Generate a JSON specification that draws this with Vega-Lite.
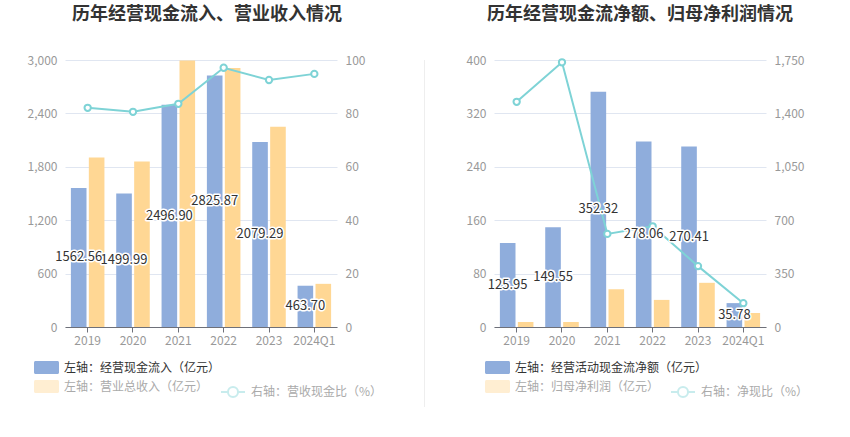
{
  "$schema": "https://vega.github.io/schema/vega-lite/v6.json",
  "background": "white",
  "padding": {"left": 27, "top": 6, "right": 0, "bottom": 0},
  "datasets": {
    "cash": [
      {"year": "2019", "s": "左轴：经营现金流入（亿元）", "v": 1562.56},
      {"year": "2020", "s": "左轴：经营现金流入（亿元）", "v": 1499.99},
      {"year": "2021", "s": "左轴：经营现金流入（亿元）", "v": 2496.90},
      {"year": "2022", "s": "左轴：经营现金流入（亿元）", "v": 2825.87},
      {"year": "2023", "s": "左轴：经营现金流入（亿元）", "v": 2079.29},
      {"year": "2024Q1", "s": "左轴：经营现金流入（亿元）", "v": 463.70},
      {"year": "2019", "s": "左轴：营业总收入（亿元）", "v": 1905},
      {"year": "2020", "s": "左轴：营业总收入（亿元）", "v": 1860},
      {"year": "2021", "s": "左轴：营业总收入（亿元）", "v": 2995},
      {"year": "2022", "s": "左轴：营业总收入（亿元）", "v": 2910},
      {"year": "2023", "s": "左轴：营业总收入（亿元）", "v": 2250},
      {"year": "2024Q1", "s": "左轴：营业总收入（亿元）", "v": 485}
    ],
    "cashRatio": [
      {"year": "2019", "r": 82.1},
      {"year": "2020", "r": 80.6},
      {"year": "2021", "r": 83.6},
      {"year": "2022", "r": 97.1},
      {"year": "2023", "r": 92.5},
      {"year": "2024Q1", "r": 94.8}
    ],
    "net": [
      {"year": "2019", "s": "左轴：经营活动现金流净额（亿元）", "v": 125.95},
      {"year": "2020", "s": "左轴：经营活动现金流净额（亿元）", "v": 149.55},
      {"year": "2021", "s": "左轴：经营活动现金流净额（亿元）", "v": 352.32},
      {"year": "2022", "s": "左轴：经营活动现金流净额（亿元）", "v": 278.06},
      {"year": "2023", "s": "左轴：经营活动现金流净额（亿元）", "v": 270.41},
      {"year": "2024Q1", "s": "左轴：经营活动现金流净额（亿元）", "v": 35.78},
      {"year": "2019", "s": "左轴：归母净利润（亿元）", "v": 7.5},
      {"year": "2020", "s": "左轴：归母净利润（亿元）", "v": 7.5},
      {"year": "2021", "s": "左轴：归母净利润（亿元）", "v": 56.7},
      {"year": "2022", "s": "左轴：归母净利润（亿元）", "v": 40.6},
      {"year": "2023", "s": "左轴：归母净利润（亿元）", "v": 66.2},
      {"year": "2024Q1", "s": "左轴：归母净利润（亿元）", "v": 21}
    ],
    "netRatio": [
      {"year": "2019", "r": 1476},
      {"year": "2020", "r": 1735},
      {"year": "2021", "r": 610},
      {"year": "2022", "r": 660},
      {"year": "2023", "r": 399},
      {"year": "2024Q1", "r": 156}
    ]
  },
  "spacing": 41,
  "resolve": {
    "scale": {"color": "independent", "stroke": "independent", "xOffset": "independent"},
    "legend": {"color": "independent", "stroke": "independent"}
  },
  "hconcat": [
    {
      "width": 272,
      "height": 267,
      "title": {"text": "历年经营现金流入、营业收入情况", "frame": "group", "anchor": "middle", "offset": 30, "dx": 6},
      "layer": [
        {
          "data": {"name": "cash"},
          "mark": {"type": "bar"},
          "encoding": {
            "x": {"field": "year", "type": "nominal", "title": null, "scale": {"paddingInner": 0.26, "paddingOuter": 0.13}},
            "xOffset": {"field": "s", "type": "nominal", "scale": {"domain": ["左轴：经营现金流入（亿元）", "左轴：营业总收入（亿元）"], "paddingInner": 0.13}},
            "y": {"field": "v", "type": "quantitative", "title": null, "scale": {"domain": [0, 3000]}, "axis": {"values": [0, 600, 1200, 1800, 2400, 3000], "labelExpr": "format(datum.value, ',')"}},
            "color": {
              "field": "s", "type": "nominal",
              "scale": {"domain": ["左轴：经营现金流入（亿元）", "左轴：营业总收入（亿元）"], "range": ["#8FADDC", "#FFD794"]},
              "legend": {
                "orient": "none", "legendX": -31, "legendY": 295, "title": null, "direction": "vertical", "padding": 0,
                "symbolType": "M-0.88,-0.52H0.88A0.12,0.12,0,0,1,1,-0.4V0.4A0.12,0.12,0,0,1,0.88,0.52H-0.88A0.12,0.12,0,0,1,-1,0.4V-0.4A0.12,0.12,0,0,1,-0.88,-0.52Z",
                "symbolSize": 625, "symbolStrokeWidth": 0, "rowPadding": 0, "labelOffset": 5,
                "labelColor": {"expr": "datum.value == '左轴：经营现金流入（亿元）' ? '#333333' : '#aaaaaa'"},
                "symbolOpacity": {"expr": "datum.value == '左轴：经营现金流入（亿元）' ? 1 : 0.42"}
              }
            }
          }
        },
        {
          "data": {"name": "cashRatio"},
          "encoding": {
            "x": {"field": "year", "type": "nominal"},
            "y": {"field": "r", "type": "quantitative", "title": null, "scale": {"domain": [0, 100]}, "axis": {"orient": "right", "grid": false, "values": [0, 20, 40, 60, 80, 100]}}
          },
          "layer": [
            {
              "mark": {"type": "line", "strokeWidth": 2},
              "encoding": {
                "stroke": {
                  "datum": "右轴：营收现金比（%）", "type": "nominal",
                  "scale": {"range": ["#7ED3D6"]},
                  "legend": {
                    "orient": "none", "legendX": 155, "legendY": 319, "title": null, "padding": 0,
                    "symbolType": "M-1,0H-0.42M0.42,0H1M0.42,0A0.42,0.42,0,1,1,-0.42,0A0.42,0.42,0,1,1,0.42,0Z",
                    "symbolSize": 576, "symbolStrokeWidth": 2, "symbolOpacity": 0.42, "labelOffset": 5, "labelColor": "#aaaaaa"
                  }
                }
              }
            },
            {"mark": {"type": "point", "shape": "circle", "size": 40, "filled": true, "fill": "white", "stroke": "#7ED3D6", "strokeWidth": 2, "opacity": 1}}
          ]
        },
        {
          "data": {"name": "cash"},
          "transform": [{"filter": {"field": "s", "equal": "左轴：经营现金流入（亿元）"}}, {"calculate": "datum.v / 2", "as": "mid"}],
          "mark": {"type": "text", "fontSize": 13, "stroke": "white", "strokeWidth": 3, "strokeJoin": "round", "fill": "white"},
          "encoding": {
            "x": {"field": "year", "type": "nominal"},
            "xOffset": {"field": "s", "type": "nominal"},
            "y": {"field": "mid", "type": "quantitative", "scale": {"domain": [0, 3000]}, "axis": null},
            "text": {"field": "v", "type": "quantitative", "format": ".2f"}
          }
        },
        {
          "data": {"name": "cash"},
          "transform": [{"filter": {"field": "s", "equal": "左轴：经营现金流入（亿元）"}}, {"calculate": "datum.v / 2", "as": "mid"}],
          "mark": {"type": "text", "fontSize": 13, "fill": "#333333"},
          "encoding": {
            "x": {"field": "year", "type": "nominal"},
            "xOffset": {"field": "s", "type": "nominal"},
            "y": {"field": "mid", "type": "quantitative", "scale": {"domain": [0, 3000]}, "axis": null},
            "text": {"field": "v", "type": "quantitative", "format": ".2f"}
          }
        }
      ],
      "resolve": {"scale": {"y": "independent"}}
    },
    {
      "width": 1,
      "height": 347,
      "data": {"values": [{}]},
      "mark": {"type": "rect", "color": "#EEEEEE"},
      "encoding": {}
    },
    {
      "width": 272,
      "height": 267,
      "title": {"text": "历年经营现金流净额、归母净利润情况", "frame": "group", "anchor": "middle", "offset": 30, "dx": 10},
      "layer": [
        {
          "data": {"name": "net"},
          "mark": {"type": "bar"},
          "encoding": {
            "x": {"field": "year", "type": "nominal", "title": null, "scale": {"paddingInner": 0.26, "paddingOuter": 0.13}},
            "xOffset": {"field": "s", "type": "nominal", "scale": {"domain": ["左轴：经营活动现金流净额（亿元）", "左轴：归母净利润（亿元）"], "paddingInner": 0.13}},
            "y": {"field": "v", "type": "quantitative", "title": null, "scale": {"domain": [0, 400]}, "axis": {"values": [0, 80, 160, 240, 320, 400]}},
            "color": {
              "field": "s", "type": "nominal",
              "scale": {"domain": ["左轴：经营活动现金流净额（亿元）", "左轴：归母净利润（亿元）"], "range": ["#8FADDC", "#FFD794"]},
              "legend": {
                "orient": "none", "legendX": -9, "legendY": 295, "title": null, "direction": "vertical", "padding": 0,
                "symbolType": "M-0.88,-0.52H0.88A0.12,0.12,0,0,1,1,-0.4V0.4A0.12,0.12,0,0,1,0.88,0.52H-0.88A0.12,0.12,0,0,1,-1,0.4V-0.4A0.12,0.12,0,0,1,-0.88,-0.52Z",
                "symbolSize": 625, "symbolStrokeWidth": 0, "rowPadding": 0, "labelOffset": 5,
                "labelColor": {"expr": "datum.value == '左轴：经营活动现金流净额（亿元）' ? '#333333' : '#aaaaaa'"},
                "symbolOpacity": {"expr": "datum.value == '左轴：经营活动现金流净额（亿元）' ? 1 : 0.42"}
              }
            }
          }
        },
        {
          "data": {"name": "netRatio"},
          "encoding": {
            "x": {"field": "year", "type": "nominal"},
            "y": {"field": "r", "type": "quantitative", "title": null, "scale": {"domain": [0, 1750]}, "axis": {"orient": "right", "grid": false, "values": [0, 350, 700, 1050, 1400, 1750], "labelExpr": "format(datum.value, ',')"}}
          },
          "layer": [
            {
              "mark": {"type": "line", "strokeWidth": 2},
              "encoding": {
                "stroke": {
                  "datum": "右轴：净现比（%）", "type": "nominal",
                  "scale": {"range": ["#7ED3D6"]},
                  "legend": {
                    "orient": "none", "legendX": 176, "legendY": 319, "title": null, "padding": 0,
                    "symbolType": "M-1,0H-0.42M0.42,0H1M0.42,0A0.42,0.42,0,1,1,-0.42,0A0.42,0.42,0,1,1,0.42,0Z",
                    "symbolSize": 576, "symbolStrokeWidth": 2, "symbolOpacity": 0.42, "labelOffset": 5, "labelColor": "#aaaaaa"
                  }
                }
              }
            },
            {"mark": {"type": "point", "shape": "circle", "size": 40, "filled": true, "fill": "white", "stroke": "#7ED3D6", "strokeWidth": 2, "opacity": 1}}
          ]
        },
        {
          "data": {"name": "net"},
          "transform": [{"filter": {"field": "s", "equal": "左轴：经营活动现金流净额（亿元）"}}, {"calculate": "datum.v / 2", "as": "mid"}],
          "mark": {"type": "text", "fontSize": 13, "stroke": "white", "strokeWidth": 3, "strokeJoin": "round", "fill": "white"},
          "encoding": {
            "x": {"field": "year", "type": "nominal"},
            "xOffset": {"field": "s", "type": "nominal"},
            "y": {"field": "mid", "type": "quantitative", "scale": {"domain": [0, 400]}, "axis": null},
            "text": {"field": "v", "type": "quantitative", "format": ".2f"}
          }
        },
        {
          "data": {"name": "net"},
          "transform": [{"filter": {"field": "s", "equal": "左轴：经营活动现金流净额（亿元）"}}, {"calculate": "datum.v / 2", "as": "mid"}],
          "mark": {"type": "text", "fontSize": 13, "fill": "#333333"},
          "encoding": {
            "x": {"field": "year", "type": "nominal"},
            "xOffset": {"field": "s", "type": "nominal"},
            "y": {"field": "mid", "type": "quantitative", "scale": {"domain": [0, 400]}, "axis": null},
            "text": {"field": "v", "type": "quantitative", "format": ".2f"}
          }
        }
      ],
      "resolve": {"scale": {"y": "independent"}}
    }
  ],
  "config": {
    "font": "Noto Sans CJK SC",
    "view": {"stroke": null},
    "title": {"fontSize": 18, "fontWeight": "bold", "color": "#333333", "font": "Noto Sans CJK SC"},
    "axis": {"labelFont": "Noto Sans CJK SC", "labelFontSize": 12, "labelColor": "#999999"},
    "axisX": {"domainColor": "#6E7079", "tickColor": "#6E7079", "tickSize": 5, "labelPadding": 3, "grid": false, "labelAngle": 0},
    "axisY": {"domain": false, "ticks": false, "gridColor": "#E0E6F1", "labelPadding": 8},
    "legend": {"labelFont": "Noto Sans CJK SC", "labelFontSize": 12, "labelLimit": 400},
    "text": {"font": "Noto Sans CJK SC"}
  }
}
